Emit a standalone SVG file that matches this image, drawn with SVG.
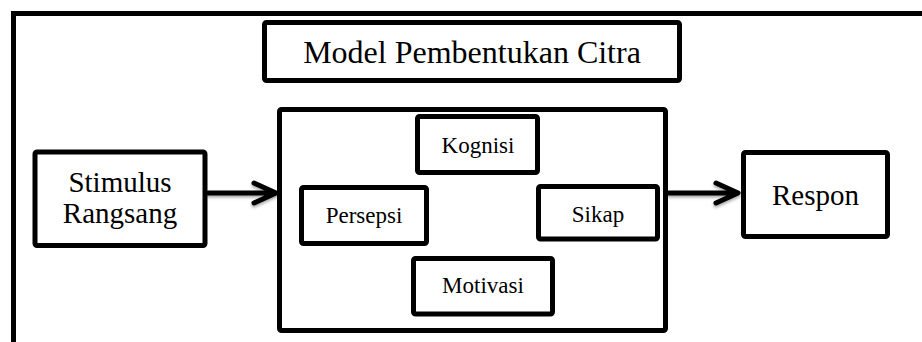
<svg xmlns="http://www.w3.org/2000/svg" width="922" height="342" viewBox="0 0 922 342">
<style>
.box{fill:#fff;stroke:#000;stroke-width:5;stroke-linejoin:round}
.t{font-family:"Liberation Serif","Times New Roman",serif;fill:#000;text-anchor:middle}
.big{font-size:29px}
.small{font-size:23px}
.title{font-size:32px}
.conn{fill:none;stroke:#000;stroke-width:5;stroke-linecap:round;stroke-linejoin:round}
</style>
<defs>
<filter id="sh" x="-20%" y="-50%" width="140%" height="200%">
<feDropShadow dx="0" dy="2" stdDeviation="1.5" flood-color="#000" flood-opacity="0.35"/>
</filter>
</defs>
<rect width="922" height="342" fill="#fff"/>
<path d="M13.5,342 V13.5 H922" fill="none" stroke="#000" stroke-width="5"/>
<g id="title">
<rect class="box" x="264.5" y="22.5" width="415" height="58" rx="2"/>
<text class="t title" x="472" y="63">Model Pembentukan Citra</text>
</g>
<g id="stimulus">
<rect class="box" x="35" y="152" width="170" height="93.5" rx="2"/>
<text class="t big" x="120" y="192">Stimulus</text>
<text class="t big" x="120" y="223">Rangsang</text>
</g>
<g id="citra">
<rect class="box" x="279.5" y="109.5" width="386" height="221" rx="2"/>
</g>
<g id="kognisi">
<rect class="box" x="417.5" y="116.5" width="120" height="56" rx="2"/>
<text class="t small" x="478" y="153">Kognisi</text>
</g>
<g id="persepsi">
<rect class="box" x="301.5" y="187.5" width="125" height="56" rx="2"/>
<text class="t small" x="364" y="223">Persepsi</text>
</g>
<g id="sikap">
<rect class="box" x="538.5" y="186.5" width="119" height="52.5" rx="2"/>
<text class="t small" x="598" y="222">Sikap</text>
</g>
<g id="motivasi">
<rect class="box" x="413.5" y="258.5" width="139" height="55.5" rx="2"/>
<text class="t small" x="483" y="293">Motivasi</text>
</g>
<g id="respon">
<rect class="box" x="743.5" y="152.5" width="144" height="84" rx="2"/>
<text class="t big" x="815.5" y="205">Respon</text>
</g>
<g id="connectors" filter="url(#sh)">
<path class="conn" d="M208,193 H274 M254,183 L276,193 L254,203"/>
<path class="conn" d="M669,193 H736 M716,183 L738,193 L716,203"/>
</g>
</svg>
